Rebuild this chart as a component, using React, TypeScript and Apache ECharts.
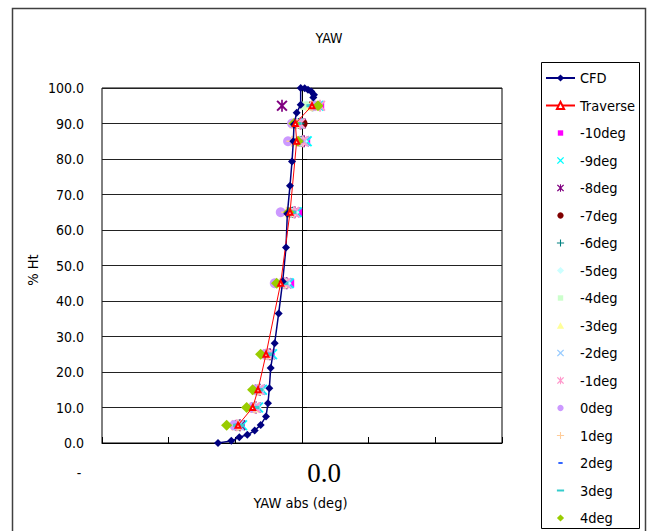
import { useEffect, useRef } from 'react';
import * as echarts from 'echarts';

const FONT = "'DejaVu Sans Condensed', 'Liberation Sans Narrow', 'Liberation Sans', sans-serif";

// Heights (% Ht) at which the traverse and probe readings were taken
const heightLevels = [5, 10, 15, 25, 45, 65, 85, 90, 95];

// Traverse yaw at each height
const traverseYaw = [-0.96, -0.74, -0.66, -0.54, -0.32, -0.18, -0.08, -0.1, 0.15];

// CFD profile
const cfdHeight = [0, 0.6, 1.6, 2.3, 3.5, 5.1, 7.5, 11.2, 15.4, 21.1, 28.1, 36.5, 45.5, 55.1, 64.6, 72.5, 79.3, 85.0, 89.8, 93.0, 95.3, 100.0, 99.9, 99.5, 99.0, 98.1, 97.3];
const cfdYaw = [-1.26, -1.06, -0.94, -0.82, -0.71, -0.62, -0.54, -0.51, -0.49, -0.47, -0.41, -0.35, -0.29, -0.24, -0.22, -0.18, -0.15, -0.13, -0.12, -0.08, -0.02, -0.02, 0.04, 0.09, 0.14, 0.18, 0.17];

// Probe yaw readings per probe setting, one value per height level
const yawM10 = [-0.92, -0.68, -0.62, -0.47, -0.18, -0.06, 0.06, -0.06, 0.27];
const yawM9 = [-0.9, -0.66, -0.6, -0.45, -0.2, -0.08, 0.07, -0.03, 0.25];
const yawM8 = [-0.93, -0.69, -0.63, -0.48, -0.23, -0.11, 0.03, -0.02, -0.3];
const yawM7 = [-0.99, -0.72, -0.66, -0.53, -0.27, -0.15, -0.02, 0.01, 0.15];
const yawM6 = [-0.95, -0.71, -0.65, -0.51, -0.26, -0.14, 0.0, -0.05, 0.16];
const yawM5 = [-0.96, -0.69, -0.63, -0.5, -0.24, -0.12, 0.01, -0.08, 0.07];
const yawM4 = [-0.98, -0.72, -0.66, -0.53, -0.29, -0.17, -0.03, -0.09, 0.04];
const yawM3 = [-0.99, -0.74, -0.68, -0.54, -0.3, -0.18, -0.05, -0.11, 0.13];
const yawM2 = [-0.95, -0.69, -0.63, -0.48, -0.23, -0.11, 0.03, -0.06, 0.21];
const yawM1 = [-0.98, -0.71, -0.65, -0.51, -0.26, -0.12, 0.01, -0.03, 0.27];
const yaw0 = [-1.02, -0.74, -0.68, -0.56, -0.41, -0.32, -0.21, -0.15, 0.18];
const yawP1 = [-0.96, -0.72, -0.66, -0.53, -0.3, -0.23, -0.15, -0.12, 0.15];
const yawP2 = [-0.96, -0.71, -0.65, -0.51, -0.27, -0.15, -0.03, -0.08, 0.16];
const yawP3 = [-0.95, -0.72, -0.66, -0.53, -0.29, -0.17, -0.08, -0.09, 0.15];
const yawP4 = [-1.13, -0.83, -0.74, -0.62, -0.38, -0.2, -0.06, -0.12, 0.24];

const probeNames = ['-10deg', '-9deg', '-8deg', '-7deg', '-6deg', '-5deg', '-4deg', '-3deg', '-2deg', '-1deg', '0deg', '1deg', '2deg', '3deg', '4deg'];
const probeYaw = [yawM10, yawM9, yawM8, yawM7, yawM6, yawM5, yawM4, yawM3, yawM2, yawM1, yaw0, yawP1, yawP2, yawP3, yawP4];

// Y-axis ticks
const yMin = 0;
const yMax = 100;
const yStep = 10;

// Marker shapes drawn inside a 10x10 frame so that aspect is kept everywhere
const FRAME = 'M0,0L0,0M10,10L10,10';
const X_SHAPE = 'M1,2L2,1L5,4L8,1L9,2L6,5L9,8L8,9L5,6L2,9L1,8L4,5Z';
const SHAPES = {
  square: `path://${FRAME}M2,2H8V8H2Z`,
  cross: `path://${FRAME}${X_SHAPE}`,
  star: `path://${FRAME}${X_SHAPE}M4.4,0.8H5.6V9.2H4.4Z`,
  circle: `path://${FRAME}M5,1.5A3.5,3.5 0 1 1 4.99,1.5Z`,
  plus: `path://${FRAME}M4.4,1H5.6V4.4H9V5.6H5.6V9H4.4V5.6H1V4.4H4.4Z`,
  diamond: `path://${FRAME}M5,1L9,5L5,9L1,5Z`,
  triangle: `path://${FRAME}M5,1.5L9,8.5L1,8.5Z`,
  shortDash: `path://${FRAME}M2.6,3.9H7.4V6.1H2.6Z`,
  longDash: `path://${FRAME}M1,3.9H9V6.1H1Z`,
};

const probeStyles = [
  { color: '#FF00FF', symbol: SHAPES.square },
  { color: '#00FFFF', symbol: SHAPES.cross },
  { color: '#800080', symbol: SHAPES.star },
  { color: '#800000', symbol: SHAPES.circle },
  { color: '#008080', symbol: SHAPES.plus },
  { color: '#CCFFFF', symbol: SHAPES.diamond },
  { color: '#CCFFCC', symbol: SHAPES.square },
  { color: '#FFFF99', symbol: SHAPES.triangle },
  { color: '#99CCFF', symbol: SHAPES.cross },
  { color: '#FF99CC', symbol: SHAPES.star },
  { color: '#CC99FF', symbol: SHAPES.circle },
  { color: '#FFCC99', symbol: SHAPES.plus },
  { color: '#3366FF', symbol: SHAPES.shortDash },
  { color: '#33CCCC', symbol: SHAPES.longDash },
  { color: '#99CC00', symbol: SHAPES.diamond },
];

export default function App() {
  const ref = useRef<HTMLDivElement>(null);

  useEffect(() => {
    if (!ref.current) return;
    const chart = echarts.init(ref.current, undefined, { renderer: 'svg' });

    const probeSeries = probeNames.map((name, k) => ({
      name,
      type: 'scatter',
      symbol: probeStyles[k].symbol,
      symbolSize: 14,
      symbolKeepAspect: true,
      itemStyle: { color: probeStyles[k].color, opacity: 1 },
      data: heightLevels.map((h, i) => [probeYaw[k][i], h]),
    }));

    chart.setOption({
      animation: false,
      backgroundColor: '#ffffff',
      grid: {
        left: 102,
        top: 88,
        width: 400,
        height: 355,
        show: true,
        borderColor: '#000',
        borderWidth: 1,
      },
      xAxis: {
        type: 'value',
        min: -3,
        max: 3,
        interval: 1,
        axisLine: { show: true, lineStyle: { color: '#000', width: 1 } },
        axisTick: { show: true, inside: true, length: 6, lineStyle: { color: '#000' } },
        axisLabel: { show: false },
        splitLine: { show: false },
      },
      yAxis: {
        type: 'value',
        min: yMin,
        max: yMax,
        interval: yStep,
        axisLine: { show: true, lineStyle: { color: '#000', width: 1 } },
        axisTick: { show: true, inside: true, length: 5, lineStyle: { color: '#000' } },
        axisLabel: {
          color: '#000',
          fontFamily: FONT,
          fontSize: 14,
          margin: 18,
          formatter: (v: number) => v.toFixed(1),
        },
        splitLine: { show: true, lineStyle: { color: '#222', width: 1 } },
      },
      legend: {
        orient: 'vertical',
        left: 545,
        top: 68,
        padding: 0,
        itemWidth: 29,
        itemHeight: 9,
        itemGap: 7.5,
        symbolKeepAspect: true,
        textStyle: { color: '#000', fontFamily: FONT, fontSize: 14.5, lineHeight: 20 },
        data: ['CFD', 'Traverse', ...probeNames],
      },
      graphic: [
        {
          type: 'rect',
          z: -10,
          shape: { x: 12.5, y: 8.5, width: 633, height: 540 },
          style: { fill: 'none', stroke: '#404040', lineWidth: 1.5 },
        },
        {
          type: 'rect',
          z: -5,
          shape: { x: 541.5, y: 62.5, width: 98, height: 466 },
          style: { fill: '#fff', stroke: '#000', lineWidth: 1 },
        },
        {
          type: 'text',
          x: 329,
          y: 38,
          style: { text: 'YAW', fill: '#000', font: `14px ${FONT}`, align: 'center', verticalAlign: 'middle' },
        },
        {
          type: 'text',
          x: 33,
          y: 270,
          rotation: Math.PI / 2,
          style: { text: '% Ht', fill: '#000', font: `14.5px ${FONT}`, align: 'center', verticalAlign: 'middle' },
        },
        {
          type: 'text',
          x: 300.5,
          y: 503,
          style: { text: 'YAW abs (deg)', fill: '#000', font: `14.5px ${FONT}`, align: 'center', verticalAlign: 'middle' },
        },
        {
          type: 'text',
          x: 79,
          y: 473,
          style: { text: '-', fill: '#000', font: `14px ${FONT}`, align: 'center', verticalAlign: 'middle' },
        },
        {
          type: 'text',
          x: 324,
          y: 473,
          style: { text: '0.0', fill: '#000', font: "27px 'Liberation Serif', 'DejaVu Serif', serif", align: 'center', verticalAlign: 'middle' },
        },
      ],
      series: [
        {
          name: 'CFD',
          type: 'line',
          symbol: 'diamond',
          symbolSize: 8,
          lineStyle: { color: '#000080', width: 1.5 },
          itemStyle: { color: '#000080' },
          data: cfdHeight.map((h, i) => [cfdYaw[i], h]),
        },
        {
          name: 'Traverse',
          type: 'line',
          symbol: 'emptyTriangle',
          symbolSize: 5,
          lineStyle: { color: '#FF0000', width: 1 },
          itemStyle: { color: '#FF0000', borderWidth: 1 },
          data: heightLevels.map((h, i) => [traverseYaw[i], h]),
        },
        ...probeSeries,
      ],
    });

    return () => chart.dispose();
  }, []);

  return (
    <div
      ref={ref}
      style={{ position: 'absolute', left: 0, top: 0, width: 649, height: 531 }}
    />
  );
}
